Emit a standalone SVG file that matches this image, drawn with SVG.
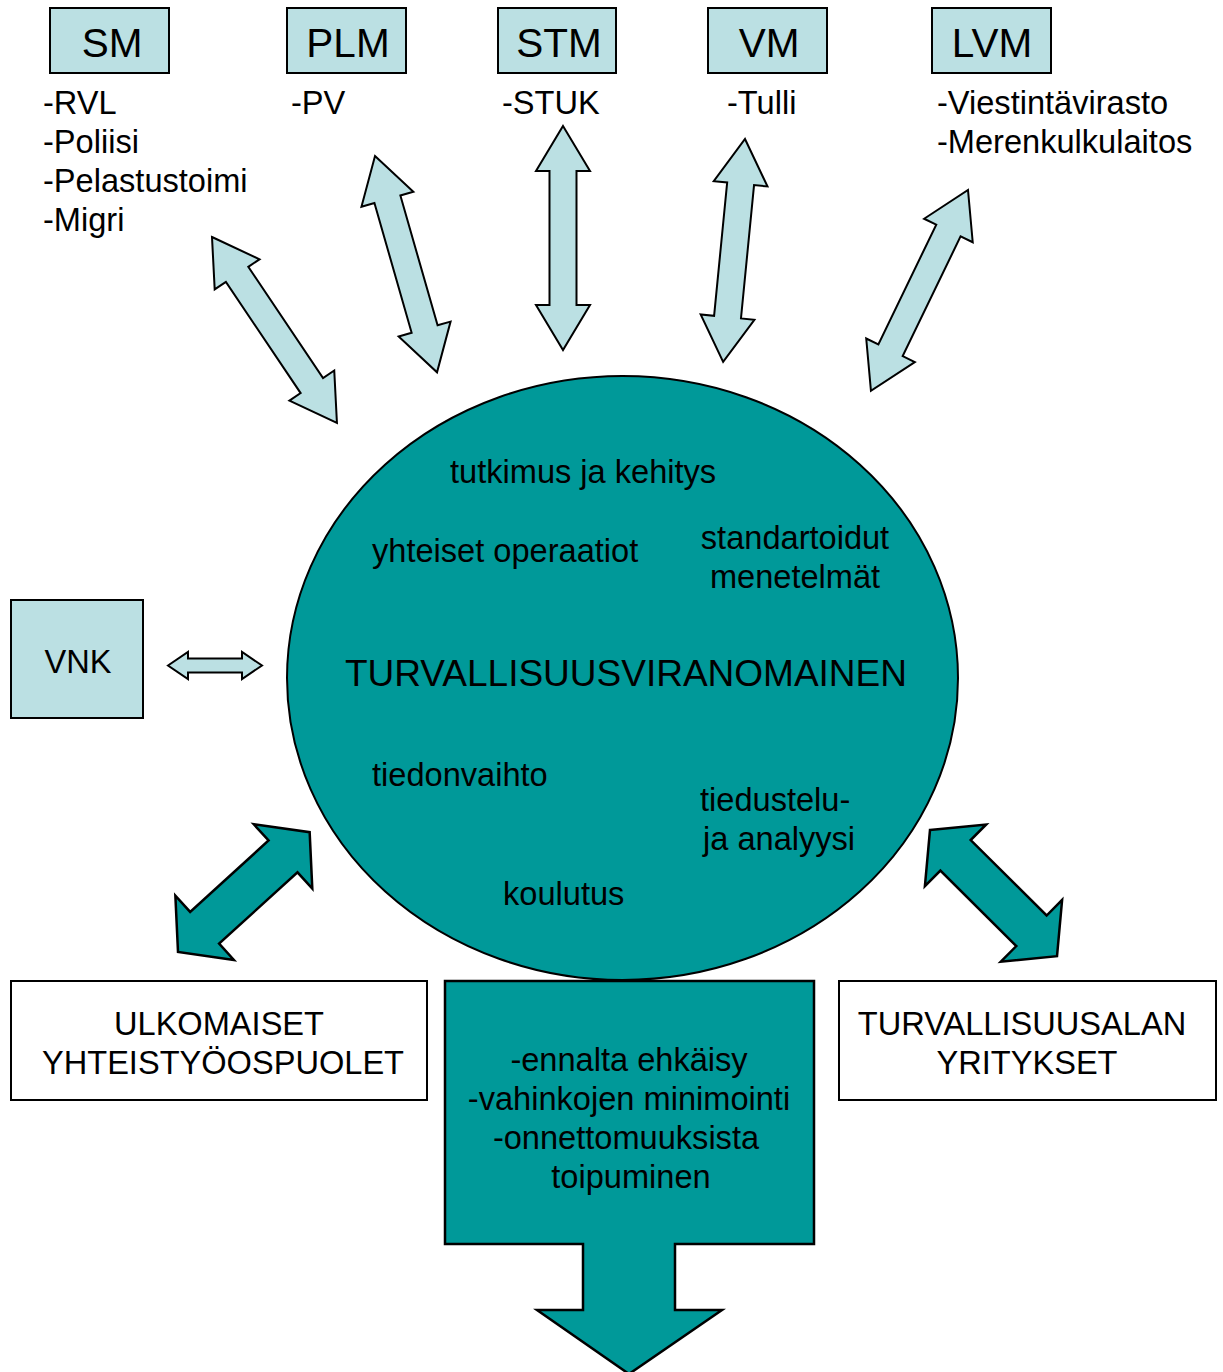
<svg xmlns="http://www.w3.org/2000/svg" width="1223" height="1372" viewBox="0 0 1223 1372">
<style>
text{font-family:"Liberation Sans",Arial,sans-serif;fill:#000}
.box{fill:#BBE0E3;stroke:#000;stroke-width:2}
.wbox{fill:#fff;stroke:#000;stroke-width:2}
.la{fill:#BBE0E3;stroke:#000;stroke-width:2;stroke-linejoin:miter}
.ta{fill:#009999;stroke:#000;stroke-width:2.5;stroke-linejoin:miter}
.t40{font-size:40.5px}
.t32{font-size:32.6px}
.c{text-anchor:middle}
</style>
<rect width="1223" height="1372" fill="#fff"/>
<g id="connectors">
<path class="la" transform="translate(212,237) rotate(56.1)" d="M0,0 L45,-27 L45,-13.5 L179,-13.5 L179,-27 L224,0 L179,27 L179,13.5 L45,13.5 L45,27 Z"/>
<path class="la" transform="translate(375,156) rotate(74)" d="M0,0 L45,-27 L45,-13.5 L180,-13.5 L180,-27 L225,0 L180,27 L180,13.5 L45,13.5 L45,27 Z"/>
<path class="la" transform="translate(563,126) rotate(90)" d="M0,0 L45,-27 L45,-13.5 L179,-13.5 L179,-27 L224,0 L179,27 L179,13.5 L45,13.5 L45,27 Z"/>
<path class="la" transform="translate(745,139) rotate(95.6)" d="M0,0 L45,-27 L45,-13.5 L179,-13.5 L179,-27 L224,0 L179,27 L179,13.5 L45,13.5 L45,27 Z"/>
<path class="la" transform="translate(968,190) rotate(115.8)" d="M0,0 L45,-27 L45,-13.5 L178,-13.5 L178,-27 L223,0 L178,27 L178,13.5 L45,13.5 L45,27 Z"/>
<path class="la" transform="translate(168,665.5)" d="M0,0 L20,-13.5 L20,-7 L74,-7 L74,-13.5 L94,0 L74,13.5 L74,7 L20,7 L20,13.5 Z"/>
<path class="ta" transform="translate(178,952) rotate(-42.3)" d="M0,0 L36,-43.5 L36,-21.5 L142,-21.5 L142,-43.5 L178,0 L142,43.5 L142,21.5 L36,21.5 L36,43.5 Z"/>
<path class="ta" transform="translate(930,830) rotate(44.8)" d="M0,0 L36,-43.5 L36,-21.5 L143,-21.5 L143,-43.5 L179,0 L143,43.5 L143,21.5 L36,21.5 L36,43.5 Z"/>
</g>
<g id="SM">
<rect class="box" x="50" y="8" width="119" height="65"/>
<text class="t40 c" x="112" y="57">SM</text>
<text class="t32" x="43" y="114">-RVL</text>
<text class="t32" x="43" y="153">-Poliisi</text>
<text class="t32" x="43" y="192">-Pelastustoimi</text>
<text class="t32" x="43" y="231">-Migri</text>
</g>
<g id="PLM">
<rect class="box" x="287" y="8" width="119" height="65"/>
<text class="t40 c" x="348" y="57">PLM</text>
<text class="t32" x="291" y="114">-PV</text>
</g>
<g id="STM">
<rect class="box" x="498" y="8" width="118" height="65"/>
<text class="t40 c" x="559" y="57">STM</text>
<text class="t32" x="502" y="114">-STUK</text>
</g>
<g id="VM">
<rect class="box" x="708" y="8" width="119" height="65"/>
<text class="t40 c" x="769" y="57">VM</text>
<text class="t32" x="727" y="114">-Tulli</text>
</g>
<g id="LVM">
<rect class="box" x="932" y="8" width="119" height="65"/>
<text class="t40 c" x="992" y="57">LVM</text>
<text class="t32" x="937" y="114">-Viestintävirasto</text>
<text class="t32" x="937" y="153">-Merenkulkulaitos</text>
</g>
<g id="VNK">
<rect class="box" x="11" y="600" width="132" height="118"/>
<text class="t32 c" x="78" y="673">VNK</text>
</g>
<g id="TURVALLISUUSVIRANOMAINEN">
<ellipse cx="622.5" cy="678" rx="335.5" ry="302" fill="#009999" stroke="#000" stroke-width="2"/>
<text class="t32" x="450" y="483">tutkimus ja kehitys</text>
<text class="t32" x="372" y="562">yhteiset operaatiot</text>
<text class="t32 c" x="795" y="549">standartoidut</text>
<text class="t32 c" x="795" y="588">menetelmät</text>
<text class="c" x="626" y="686" font-size="37">TURVALLISUUSVIRANOMAINEN</text>
<text class="t32" x="372" y="786">tiedonvaihto</text>
<text class="t32" x="700" y="811">tiedustelu-</text>
<text class="t32" x="703" y="850">ja analyysi</text>
<text class="t32" x="503" y="905">koulutus</text>
</g>
<g id="ULKOMAISET">
<rect class="wbox" x="11" y="981" width="416" height="119"/>
<text class="t32 c" x="219" y="1035">ULKOMAISET</text>
<text class="t32 c" x="223" y="1074">YHTEISTYÖOSPUOLET</text>
</g>
<g id="TURVALLISUUSALAN">
<rect class="wbox" x="839" y="981" width="377" height="119"/>
<text class="t32 c" x="1022" y="1035">TURVALLISUUSALAN</text>
<text class="t32 c" x="1027" y="1074">YRITYKSET</text>
</g>
<g id="tavoitteet">
<path class="ta" stroke-width="2" d="M445,981 L814,981 L814,1244 L675,1244 L675,1310 L722,1310 L629,1374 L537,1310 L583,1310 L583,1244 L445,1244 Z"/>
<text class="t32 c" x="629" y="1071">-ennalta ehkäisy</text>
<text class="t32 c" x="629" y="1110">-vahinkojen minimointi</text>
<text class="t32 c" x="626" y="1149">-onnettomuuksista</text>
<text class="t32 c" x="631" y="1188">toipuminen</text>
</g>
</svg>
